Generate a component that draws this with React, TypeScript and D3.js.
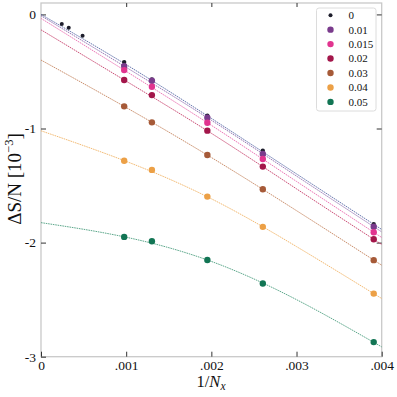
import React, { useEffect, useRef } from "react";
import * as d3 from "d3";

// strain values shown in the legend
const strains = ["0", "0.01", "0.015", "0.02", "0.03", "0.04", "0.05"];
const pointColors = ["#1d1d2b", "#7a3b8c", "#e1348f", "#a3164a", "#a65a38", "#eca046", "#127554"];
const lineColors = ["#5a6aa6", "#8e6cae", "#ea6cb0", "#c7406c", "#c4845e", "#f1b466", "#4c9f80"];

// 1/Nx of the measured sizes
const invNx = [1 / 1024, 1 / 768, 1 / 512, 1 / 384, 1 / 256];
// extra small sizes, only for strain 0
const invNxExtra = [1 / 4096, 1 / 3072, 1 / 2048];
const extraZero = [-0.085, -0.117, -0.187];

// ΔS/N [1e-3] at invNx, per strain
const dS0 = [-0.418, -0.569, -0.888, -1.194, -1.839];
const dS01 = [-0.453, -0.581, -0.905, -1.223, -1.86];
const dS015 = [-0.488, -0.634, -0.949, -1.267, -1.909];
const dS02 = [-0.575, -0.707, -1.019, -1.334, -1.97];
const dS03 = [-0.806, -0.946, -1.232, -1.532, -2.154];
const dS04 = [-1.282, -1.363, -1.597, -1.862, -2.447];
const dS05 = [-1.95, -1.988, -2.152, -2.359, -2.872];
const pointSeries = [dS0, dS01, dS015, dS02, dS03, dS04, dS05];

// fit curves read at fitX
const fitX = [0, 0.001, 0.002, 0.003, 0.004];
const fit0 = [0, -0.44, -0.911, -1.398, -1.885];
const fit01 = [-0.012, -0.464, -0.928, -1.417, -1.906];
const fit015 = [-0.035, -0.499, -0.972, -1.464, -1.955];
const fit02 = [-0.135, -0.585, -1.042, -1.529, -2.016];
const fit03 = [-0.4, -0.816, -1.254, -1.72, -2.198];
const fit04 = [-1.02, -1.288, -1.616, -2.035, -2.49];
const fit05 = [-1.825, -1.953, -2.165, -2.5, -2.914];
const fitSeries = [fit0, fit01, fit015, fit02, fit03, fit04, fit05];

const xTicks = [0, 0.001, 0.002, 0.003, 0.004];
const yTicks = [0, -1, -2, -3];

const FONT = "Liberation Serif, Times New Roman, Times, serif";

function App() {
    const chart = useRef<SVGSVGElement | null>(null);

    useEffect(() => {
        const margin = { top: 3, right: 15.3, bottom: 40.3, left: 41 };
        const W = 397;
        const H = 397;
        const width = W - margin.left - margin.right;
        const height = H - margin.top - margin.bottom;

        const root = d3.select(chart.current)
            .attr("width", W)
            .attr("height", H)
            .attr("font-family", FONT);
        const svg = root.append("g")
            .attr("transform", "translate(" + margin.left + "," + margin.top + ")");

        const x = d3.scaleLinear().domain([0, 0.004]).range([0, width]);
        const y = d3.scaleLinear().domain([-3, 0.1]).range([height, 0]);

        // frame
        svg.append("rect")
            .attr("x", 0).attr("y", 0)
            .attr("width", width).attr("height", height)
            .attr("fill", "none")
            .attr("stroke", "#c9c9c9")
            .attr("stroke-width", 1.3);

        const styleAxis = (g: any) => {
            g.attr("font-family", FONT).attr("font-size", 13.5);
            g.select(".domain").remove();
            g.selectAll("line").attr("stroke", "#333").attr("stroke-width", 1);
            g.selectAll("text").attr("fill", "#111");
        };

        svg.append("g")
            .attr("transform", "translate(0," + height + ")")
            .call(d3.axisBottom(x).tickValues(xTicks).tickSize(-5).tickPadding(4)
                .tickFormat((d: any) => d === 0 ? "0" : d3.format(".3f")(d).replace(/^0/, "")))
            .call(styleAxis);
        svg.append("g")
            .call(d3.axisTop(x).tickValues(xTicks.slice(1, -1)).tickSize(-4).tickFormat(() => ""))
            .call(styleAxis);
        svg.append("g")
            .call(d3.axisLeft(y).tickValues(yTicks).tickSize(-5).tickPadding(5)
                .tickFormat((d: any) => String(d)))
            .call(styleAxis);
        svg.append("g")
            .attr("transform", "translate(" + width + ",0)")
            .call(d3.axisRight(y).tickValues(yTicks.slice(0, -1)).tickSize(-5).tickFormat(() => ""))
            .call(styleAxis);

        // fit curves
        const line = d3.line<number>()
            .x((d, i) => x(fitX[i]))
            .y(d => y(d))
            .curve(d3.curveNatural);

        svg.selectAll(".fit")
            .data(fitSeries)
            .enter()
            .append("path")
                .attr("class", "fit")
                .attr("d", d => line(d))
                .attr("fill", "none")
                .attr("stroke", (d, i) => lineColors[i])
                .attr("stroke-width", 1)
                .attr("stroke-dasharray", "1.6 0.8")
                .attr("opacity", 0.9);

        // extra points for strain 0
        svg.selectAll(".extra")
            .data(extraZero)
            .enter()
            .append("circle")
                .attr("cx", (d, i) => x(invNxExtra[i]))
                .attr("cy", d => y(d))
                .attr("r", 2)
                .attr("fill", pointColors[0]);

        // measured points
        pointSeries.forEach((vals, s) => {
            svg.selectAll(".pts-" + s)
                .data(vals)
                .enter()
                .append("circle")
                    .attr("cx", (d, i) => x(invNx[i]))
                    .attr("cy", d => y(d))
                    .attr("r", s === 0 ? 2.2 : 3.2)
                    .attr("fill", pointColors[s]);
        });

        // legend
        const legend = root.append("g").attr("transform", "translate(316.5,8)");
        legend.append("rect")
            .attr("width", 59.5).attr("height", 103)
            .attr("rx", 2.5)
            .attr("fill", "#fff")
            .attr("stroke", "#dcdcdc")
            .attr("stroke-width", 1);
        const rows = legend.selectAll(".row")
            .data(strains)
            .enter()
            .append("g")
                .attr("transform", (d, i) => "translate(0," + (7.2 + i * 14.45) + ")");
        rows.append("circle")
            .attr("cx", 14)
            .attr("r", (d, i) => i === 0 ? 2 : 3.2)
            .attr("fill", (d, i) => pointColors[i]);
        rows.append("text")
            .attr("x", 32)
            .attr("dy", "0.35em")
            .attr("fill", "#111")
            .attr("font-size", 11)
            .text(d => d);

        // axis titles
        const xl = root.append("text")
            .attr("x", 211)
            .attr("y", 387)
            .attr("text-anchor", "middle")
            .attr("fill", "#111")
            .attr("font-size", 16.5);
        xl.append("tspan").text("1/");
        xl.append("tspan").attr("font-style", "italic").text("N");
        xl.append("tspan").attr("font-style", "italic").attr("font-size", 11.5).attr("dy", 3).text("x");

        const yl = root.append("text")
            .attr("transform", "translate(20.5,179) rotate(-90)")
            .attr("text-anchor", "middle")
            .attr("fill", "#111")
            .attr("font-size", 19);
        yl.append("tspan").text("ΔS/N [10");
        yl.append("tspan").attr("font-size", 12.5).attr("dy", -8).text("−3");
        yl.append("tspan").attr("dy", 8).text("]");

        return () => {
            root.selectAll("*").remove();
        };
    }, []);

    return (
        <svg ref={chart} style={{ position: "absolute", left: 0, top: 0 }}></svg>
    );
}

export default App;
